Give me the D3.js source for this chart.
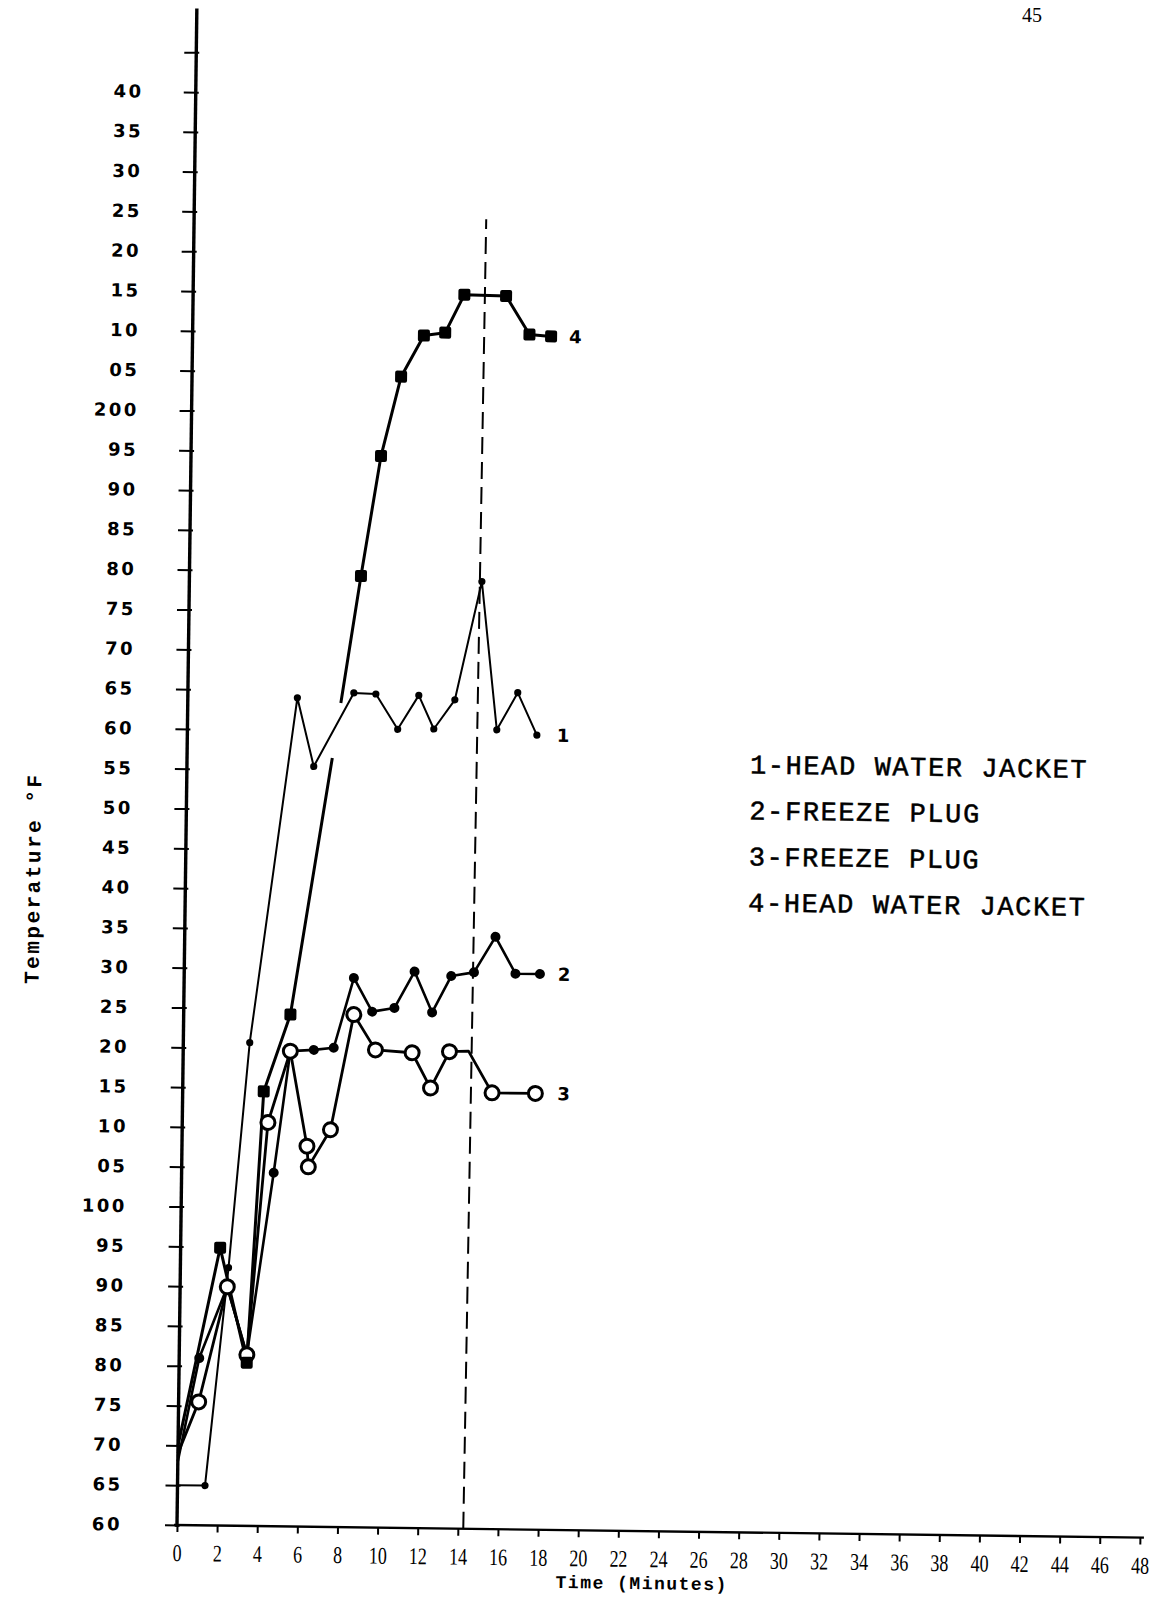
<!DOCTYPE html>
<html>
<head>
<meta charset="utf-8">
<script src="https://cdn.jsdelivr.net/npm/d3@7"></script>
<style>
  body { margin: 0; background: #fff; }
</style>
</head>
<body>
<svg id="chart" width="1165" height="1601"></svg>
<script>
// x axis ticks (minutes)
const minutes = [0, 2, 4, 6, 8, 10, 12, 14, 16, 18, 20, 22, 24, 26, 28, 30, 32, 34, 36, 38, 40, 42, 44, 46, 48];

// y axis ticks (deg F) and the abbreviated labels typed on the original
const tempTicks = [60, 65, 70, 75, 80, 85, 90, 95, 100, 105, 110, 115, 120, 125, 130, 135, 140, 145, 150, 155,
  160, 165, 170, 175, 180, 185, 190, 195, 200, 205, 210, 215, 220, 225, 230, 235, 240, 245];
const tempLabels = ["60", "65", "70", "75", "80", "85", "90", "95", "100", "05", "10", "15", "20", "25", "30", "35",
  "40", "45", "50", "55", "60", "65", "70", "75", "80", "85", "90", "95", "200", "05", "10", "15", "20", "25",
  "30", "35", "40", ""];

// [minutes, temperature]
const headJacket1 = [[0, 65], [1.37, 65], [2.4, 92.4], [3.31, 120.7], [5.46, 164.1], [6.32, 155.5], [8.27, 164.8],
  [9.37, 164.7], [10.48, 160.3], [11.51, 164.6], [12.28, 160.4], [13.31, 164.1], [14.58, 179], [15.42, 160.4],
  [16.44, 165.1], [17.42, 159.8]];
const freezePlug2 = [[0, 68], [1, 81], [2.35, 90], [3.37, 81.5], [4.59, 104.4], [5.34, 119.7], [6.51, 119.9],
  [7.5, 120.2], [8.46, 129], [9.39, 124.8], [10.5, 125.3], [11.48, 129.9], [12.38, 124.8], [13.31, 129.4],
  [14.44, 129.9], [15.49, 134.4], [16.51, 129.8], [17.73, 129.8]];
const freezePlug3 = [[0, 69], [1, 75.5], [2.35, 90], [3.37, 81.5], [4.27, 110.7], [5.34, 119.7], [6.23, 107.8],
  [6.31, 105.2], [7.39, 109.9], [8.48, 124.4], [9.58, 120], [11.41, 119.7], [12.35, 115.3], [13.27, 119.9],
  [14.22, 120], [15.42, 114.8], [17.58, 114.8]];
// null = where the pen lifted crossing curve 1
const headJacket4 = [[0, 70], [1.97, 94.9], [3.37, 80.5], [4.04, 114.6], [5.32, 124.3], [7.24, 156.6], null,
  [7.63, 163.5], [8.55, 179.5], [9.47, 194.6], [10.42, 204.6], [11.53, 209.8], [12.59, 210.2], [13.52, 215],
  [15.6, 214.9], [16.79, 210.1], [17.87, 209.9]];

const dashedMark = [[14.27, 60], [14.56, 224.5]];

const legendItems = ["1-HEAD WATER JACKET", "2-FREEZE PLUG", "3-FREEZE PLUG", "4-HEAD WATER JACKET"];

const svg = d3.select("#chart");

const x = d3.scaleLinear().domain([0, 48]).range([177, 1140]);
const y = d3.scaleLinear().domain([60, 240]).range([1525, 92]);

// the scanned page sits slightly turned
const g = svg.append("g")
  .attr("transform", `rotate(0.75, ${x(0)}, ${y(60)})`);

// y axis
const yAxis = g.append("g")
  .attr("transform", `translate(${x(0)},0)`)
  .call(d3.axisLeft(y).tickValues(tempTicks).tickSize(12).tickPadding(42)
    .tickFormat((d, i) => tempLabels[i]));
yAxis.select(".domain").remove();
yAxis.selectAll(".tick line").attr("x1", 3).attr("stroke", "#000").attr("stroke-width", 2);
yAxis.selectAll(".tick text")
  .attr("x", d => -55 + (y(60) - y(d)) * 0.002)
  .attr("font-family", "DejaVu Sans")
  .attr("font-weight", "bold")
  .attr("font-size", 18)
  .attr("letter-spacing", 2.5)
  .attr("fill", "#000");
g.append("line")
  .attr("x1", x(0)).attr("x2", x(0))
  .attr("y1", y(60) + 2).attr("y2", y(250.5))
  .attr("stroke", "#000").attr("stroke-width", 3.4);

// x axis
const xAxis = g.append("g")
  .attr("transform", `translate(0,${y(60)})`)
  .call(d3.axisBottom(x).tickValues(minutes).tickSize(7).tickPadding(12));
xAxis.select(".domain").remove();
xAxis.selectAll(".tick line").attr("stroke", "#000").attr("stroke-width", 2);
xAxis.selectAll(".tick text")
  .attr("font-family", "Liberation Serif")
  .attr("font-size", 24)
  .attr("transform", "scale(0.75,1)")
  .attr("fill", "#000");
g.append("line")
  .attr("x1", x(0) - 3).attr("x2", x(48) + 4)
  .attr("y1", y(60)).attr("y2", y(60))
  .attr("stroke", "#000").attr("stroke-width", 2.4);

// axis titles
g.append("text")
  .attr("transform", `translate(26,${y(141)}) rotate(-90)`)
  .attr("text-anchor", "middle")
  .attr("dominant-baseline", "central")
  .attr("font-family", "Liberation Mono")
  .attr("font-weight", "bold")
  .attr("font-size", 21)
  .attr("letter-spacing", 2.5)
  .text("Temperature °F");

g.append("text")
  .attr("x", x(23.2))
  .attr("y", y(60) + 58)
  .attr("text-anchor", "middle")
  .attr("font-family", "Liberation Mono")
  .attr("font-weight", "bold")
  .attr("font-size", 18)
  .attr("letter-spacing", 1.5)
  .text("Time (Minutes)");

// dashed vertical marker
g.append("line")
  .attr("x1", x(dashedMark[0][0])).attr("y1", y(dashedMark[0][1]))
  .attr("x2", x(dashedMark[1][0])).attr("y2", y(dashedMark[1][1]))
  .attr("stroke", "#000").attr("stroke-width", 2)
  .attr("stroke-dasharray", "17,8");

const line = d3.line()
  .defined(d => d)
  .x(d => x(d[0]))
  .y(d => y(d[1]));

function drawSeries(data, width) {
  g.append("path")
    .datum(data)
    .attr("d", line)
    .attr("fill", "none")
    .attr("stroke", "#000")
    .attr("stroke-width", width)
    .attr("stroke-linejoin", "round");
}

drawSeries(headJacket1, 2);
drawSeries(freezePlug2, 2.6);
drawSeries(freezePlug3, 2.8);
drawSeries(headJacket4, 3);

// curve 1: small dots
g.selectAll("circle.s1")
  .data(headJacket1.slice(1))
  .enter().append("circle")
  .attr("class", "s1")
  .attr("cx", d => x(d[0])).attr("cy", d => y(d[1]))
  .attr("r", 3.6).attr("fill", "#000");

// curve 2: dots
g.selectAll("circle.s2")
  .data(freezePlug2.slice(1))
  .enter().append("circle")
  .attr("class", "s2")
  .attr("cx", d => x(d[0])).attr("cy", d => y(d[1]))
  .attr("r", 5).attr("fill", "#000");

// curve 3: open circles
g.selectAll("circle.s3")
  .data(freezePlug3.slice(1).filter(d => d[0] !== 14.22))
  .enter().append("circle")
  .attr("class", "s3")
  .attr("cx", d => x(d[0])).attr("cy", d => y(d[1]))
  .attr("r", 7).attr("fill", "#fff")
  .attr("stroke", "#000").attr("stroke-width", 3);

// curve 4: squares
g.selectAll("rect.s4")
  .data(headJacket4.slice(1).filter(d => d && d[0] !== 7.24 && d[0] !== 7.63))
  .enter().append("rect")
  .attr("class", "s4")
  .attr("x", d => x(d[0]) - 6).attr("y", d => y(d[1]) - 6)
  .attr("width", 12).attr("height", 12)
  .attr("rx", 2)
  .attr("fill", "#000");

// curve numbers at line ends
const ends = [
  { s: headJacket1, t: "1", dx: 20 },
  { s: freezePlug2, t: "2", dx: 18 },
  { s: freezePlug3, t: "3", dx: 22 },
  { s: headJacket4, t: "4", dx: 18 }
];
g.selectAll("text.num")
  .data(ends)
  .enter().append("text")
  .attr("class", "num")
  .attr("x", d => x(d.s[d.s.length - 1][0]) + d.dx)
  .attr("y", d => y(d.s[d.s.length - 1][1]))
  .attr("dominant-baseline", "central")
  .attr("font-family", "DejaVu Sans")
  .attr("font-weight", "bold")
  .attr("font-size", 18)
  .text(d => d.t);

// legend
g.selectAll("text.legend")
  .data(legendItems)
  .enter().append("text")
  .attr("class", "legend")
  .attr("x", 740)
  .attr("y", (d, i) => 766 + i * 46)
  .attr("font-family", "Liberation Mono")
  .attr("font-size", 27)
  .attr("letter-spacing", 1.6)
  .attr("fill", "#000")
  .attr("stroke", "#000")
  .attr("stroke-width", 0.5)
  .text(d => d);

// page number at the top edge
svg.append("text")
  .attr("x", 1022).attr("y", 22)
  .attr("font-family", "Liberation Serif")
  .attr("font-size", 20)
  .text("45");
</script>
</body>
</html>
